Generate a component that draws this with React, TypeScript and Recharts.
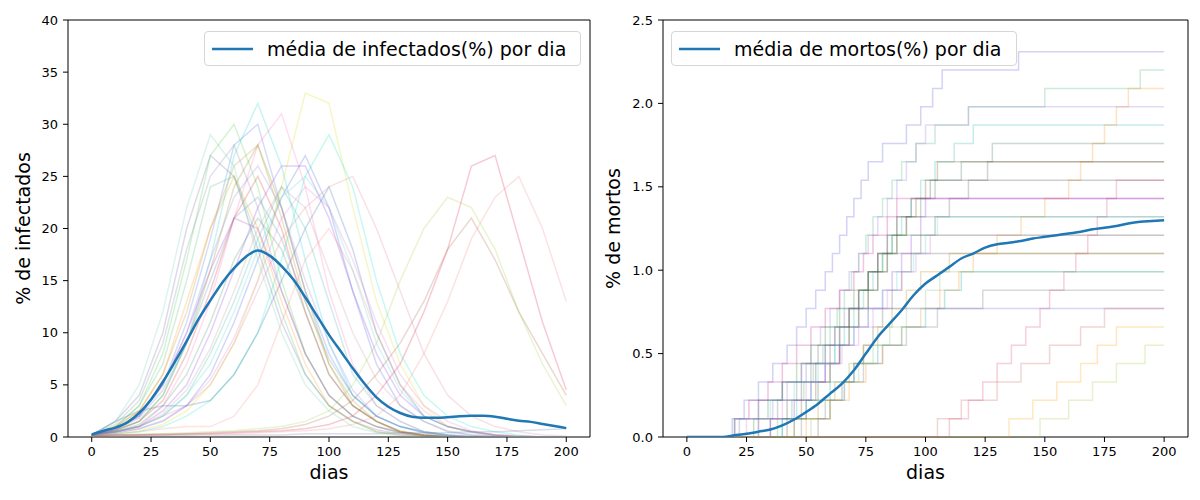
import React from "react";
import { LineChart, Line, XAxis, YAxis, ReferenceArea, Label } from "recharts";

// ---------- shared ----------
const xTicks = [0, 25, 50, 75, 100, 125, 150, 175, 200];
const infTicks = [0, 5, 10, 15, 20, 25, 30, 35, 40];
const mortTicks = [0, 0.5, 1.0, 1.5, 2.0, 2.5];

// ---------- infected: days sampled every 10 ----------
const simDays = [0, 10, 20, 30, 40, 50, 60, 70, 80, 90, 100, 110, 120, 130, 140, 150, 160, 170, 180, 190, 200];
const infRuns: number[][] = [
  [0.2, 1, 3, 8, 17, 27, 30, 24, 15, 8, 4, 2, 1, 0.5, 0.2, 0.1, 0, 0, 0, 0, 0],
  [0.2, 0.8, 2, 5, 11, 19, 28, 30, 22, 14, 8, 4, 2, 1, 0.5, 0.2, 0.1, 0, 0, 0, 0],
  [0.2, 0.6, 1.5, 4, 9, 17, 27, 32, 26, 17, 9, 4, 2, 1, 0.5, 0.2, 0, 0, 0, 0, 0],
  [0.2, 0.5, 1, 3, 7, 13, 21, 28, 31, 24, 14, 7, 3, 1.5, 0.5, 0.2, 0, 0, 0, 0, 0],
  [0.1, 0.3, 0.6, 1.2, 2.5, 5, 9, 15, 24, 33, 32, 22, 13, 7, 3, 1, 0.5, 0.2, 0, 0, 0],
  [0.1, 0.3, 0.5, 1, 2, 3.5, 6, 10, 17, 25, 29, 24, 15, 8, 4, 2, 1, 0.5, 0.2, 0, 0],
  [0.1, 0.2, 0.2, 0.2, 0.3, 0.3, 0.4, 0.5, 0.6, 0.8, 1.2, 2, 4, 7, 12, 18, 26, 27, 19, 11, 4.5],
  [0.1, 0.2, 0.2, 0.3, 0.3, 0.4, 0.5, 0.6, 0.8, 1.2, 2, 3.5, 6, 9, 13, 18, 21, 17, 12, 8, 4],
  [0.1, 0.2, 0.3, 0.3, 0.4, 0.5, 0.6, 0.8, 1, 1.5, 2.5, 5, 9, 15, 20, 23, 22, 18, 12, 7, 3],
  [0.2, 0.5, 1, 2, 3, 5, 9, 14, 19, 22, 24, 25, 20, 14, 8, 4, 2, 1, 0.5, 0.2, 0.1],
  [0.1, 0.1, 0.2, 0.2, 0.2, 0.3, 0.3, 0.4, 0.5, 0.6, 0.8, 1.2, 2, 4, 8, 13, 19, 23, 25, 20, 13],
  [0.2, 1.5, 2.5, 3, 3, 3.5, 6, 10, 15, 20, 24, 18, 10, 5, 2, 1, 0.5, 0.2, 0.1, 0, 0],
  [0.2, 0.5, 1, 2.5, 5, 10, 16, 22, 26, 26, 21, 14, 8, 4, 2, 1, 0.5, 0.2, 0, 0, 0],
  [0.2, 1.5, 4, 10, 20, 27, 25, 18, 11, 6, 3, 1.5, 0.7, 0.3, 0.1, 0, 0, 0, 0, 0, 0],
  [0.2, 0.7, 1.5, 4, 9, 16, 24, 28, 22, 14, 7, 3, 1.5, 0.5, 0.2, 0, 0, 0, 0, 0, 0],
  [0.2, 1, 2.5, 6, 13, 20, 25, 20, 13, 7, 3, 1.5, 0.5, 0.2, 0, 0, 0, 0, 0, 0, 0],
  [0.2, 0.5, 1.2, 3, 6, 11, 17, 21, 18, 12, 6, 3, 1.5, 0.5, 0.2, 0, 0, 0, 0, 0, 0],
  [0.2, 0.5, 1, 2, 4, 8, 13, 19, 24, 20, 13, 6, 3, 1.5, 0.5, 0.2, 0, 0, 0, 0, 0],
  [0.1, 0.3, 0.5, 0.8, 1, 1, 2, 5, 11, 17, 20, 16, 10, 5, 2.5, 1, 0.5, 0.2, 0.1, 0, 0],
  [0.2, 0.6, 1.5, 3.5, 8, 14, 21, 25, 20, 12, 6, 3, 1.5, 0.5, 0.2, 0, 0, 0, 0, 0, 0],
  [0.2, 0.4, 0.8, 1.5, 3, 6, 11, 17, 23, 27, 22, 14, 7, 3, 1.5, 0.5, 0.2, 0.1, 0, 0, 0],
  [0.1, 0.2, 0.2, 0.2, 0.2, 0.2, 0.2, 0.2, 0.2, 0.3, 0.3, 0.3, 0.3, 0.4, 0.4, 0.4, 0.5, 0.5, 0.6, 0.7, 0.8],
  [0.2, 1, 3, 7, 15, 24, 25, 19, 12, 6, 3, 1.5, 0.5, 0.2, 0, 0, 0, 0, 0, 0, 0],
  [0.2, 0.7, 2, 5, 10, 16, 21, 20, 14, 8, 4, 2, 1, 0.4, 0.1, 0, 0, 0, 0, 0, 0],
  [0.2, 0.8, 2, 5, 10, 17, 23, 26, 22, 15, 9, 4.5, 2, 1, 0.4, 0.1, 0, 0, 0, 0, 0],
  [0.2, 1.2, 3.5, 9, 18, 25, 28, 22, 14, 8, 4, 2, 1, 0.4, 0.1, 0, 0, 0, 0, 0, 0],
  [0.2, 0.5, 1, 2, 4, 7, 12, 18, 23, 25, 22, 16, 9, 4.5, 2, 1, 0.4, 0.1, 0, 0, 0],
  [0.2, 0.9, 2.5, 6, 12, 20, 26, 28, 21, 13, 7, 3.5, 1.5, 0.6, 0.2, 0, 0, 0, 0, 0, 0],
  [0.2, 0.4, 0.8, 1.6, 3, 5.5, 9.5, 15, 21, 24, 22, 17, 11, 6, 3, 1.5, 0.6, 0.2, 0, 0, 0],
  [0.2, 1.5, 5, 12, 22, 29, 26, 17, 10, 5, 2.5, 1, 0.4, 0.1, 0, 0, 0, 0, 0, 0, 0],
  [0.2, 0.7, 1.8, 4.5, 9, 15, 21, 23, 19, 13, 7.5, 4, 2, 1, 0.4, 0.1, 0, 0, 0, 0, 0],
  [0.2, 0.5, 1, 2.2, 4.5, 8.5, 14, 20, 24, 22, 16, 10, 5.5, 3, 1.5, 0.6, 0.2, 0, 0, 0, 0],
];
const infColors = [
  "#32cd32", "#4169e1", "#00ced1", "#ff69b4", "#d4d400", "#00e5c0", "#dc143c", "#a0522d",
  "#9acd32", "#e07090", "#f08080", "#1e5aa0", "#8a2be2", "#6a5a9a", "#808000", "#ff8c00",
  "#2e8b57", "#20b2aa", "#fa8072", "#cd2020", "#3050d0", "#5a6a9a", "#3cb371", "#c020c0",
  "#9370db", "#708090", "#48d1cc", "#b8860b", "#da70d6", "#66cdaa", "#4682b4", "#bc8f8f",
];

// mean infected, every 5 days
const meanDays = [0, 5, 10, 15, 20, 25, 30, 35, 40, 45, 50, 55, 60, 65, 70, 75, 80, 85, 90, 95, 100,
  105, 110, 115, 120, 125, 130, 135, 140, 145, 150, 155, 160, 165, 170, 175, 180, 185, 190, 195, 200];
const meanInf = [0.25, 0.6, 0.9, 1.4, 2.3, 3.6, 5.3, 7.2, 9.2, 11.3, 13.1, 14.8, 16.2, 17.3, 17.9, 17.4, 16.4, 15.1, 13.4, 11.6, 9.8,
  8.2, 6.6, 5.1, 3.8, 2.9, 2.3, 1.95, 1.85, 1.85, 1.9, 2.0, 2.05, 2.05, 1.95, 1.75, 1.55, 1.45, 1.25, 1.05, 0.85];

// mean deaths, every 5 days
const meanMort = [0, 0, 0, 0, 0.01, 0.02, 0.032, 0.045, 0.07, 0.105, 0.15, 0.2, 0.26, 0.32, 0.4, 0.5, 0.6, 0.68, 0.76, 0.85, 0.92,
  0.97, 1.02, 1.07, 1.1, 1.135, 1.155, 1.165, 1.175, 1.19, 1.2, 1.21, 1.22, 1.23, 1.245, 1.255, 1.265, 1.28, 1.29, 1.295, 1.3];

// deaths runs: the days on which each successive death happened (1 death = 0.11 %)
const deathStep = 0.11;
const deathRuns: number[][] = [
  [19, 24, 30, 36, 42, 46, 50, 54, 58, 61, 64, 67, 70, 73, 76, 82, 92, 98, 103, 107, 139],
  [38, 44, 49, 53, 57, 60, 63, 66, 69, 72, 75, 78, 82, 86, 90, 96, 104, 118, 150, 190],
  [50, 60, 68, 75, 82, 90, 98, 106, 114, 120, 130, 140, 150, 160, 165, 170, 175, 180, 185],
  [30, 36, 42, 48, 52, 56, 60, 64, 68, 72, 76, 80, 84, 88, 92, 96, 100, 118],
  [40, 46, 52, 58, 62, 66, 70, 74, 78, 82, 86, 90, 94, 98, 104, 112, 120],
  [45, 50, 55, 60, 64, 68, 72, 76, 80, 84, 88, 92, 98, 104, 115, 128],
  [42, 48, 54, 60, 64, 68, 72, 76, 80, 84, 88, 92, 96, 100, 105],
  [55, 60, 65, 70, 74, 78, 82, 86, 90, 94, 98, 104, 110, 118, 126],
  [35, 42, 48, 54, 60, 64, 68, 72, 76, 80, 84, 88, 94, 102],
  [110, 118, 124, 130, 136, 142, 148, 152, 158, 163, 168, 172, 176, 180],
  [20, 26, 34, 40, 46, 52, 58, 64, 70, 74, 78, 84, 88],
  [35, 45, 52, 58, 64, 70, 76, 82, 86, 90, 94, 98, 100],
  [30, 38, 46, 52, 58, 64, 68, 72, 76, 80, 84, 88],
  [28, 34, 40, 46, 52, 58, 64, 70, 76, 82, 86],
  [20, 30, 40, 48, 55, 62, 68, 72, 76, 80],
  [40, 50, 60, 70, 80, 90, 100, 108, 115],
  [48, 58, 66, 74, 82, 92, 105, 124],
  [22, 30, 40, 50, 58, 62, 66],
  [135, 145, 155, 165, 172, 180],
  [148, 160, 170, 180, 192],
  [105, 115, 130, 140, 152, 165, 175],
  [20, 35, 45, 55, 62, 70, 76, 82, 88, 95, 100, 105],
  [25, 40, 50, 58, 65, 72, 78, 84, 90, 96, 102],
  [45, 55, 62, 68, 74, 80, 86, 92, 98, 110],
  [52, 60, 66, 72, 78, 85, 92, 100, 106],
];
const deathColors = [
  "#5050e0", "#3cb371", "#ff8c00", "#9370db", "#20b2aa", "#2e6b4f", "#6b4513", "#505050",
  "#404040", "#db4070", "#c71585", "#8a2be2", "#606060", "#228b22", "#505050", "#00a0a0",
  "#606878", "#6a5acd", "#ffa500", "#9acd32", "#cd5c5c", "#48d1cc", "#da70d6", "#b8860b",
  "#7fbf7f",
];

// ---------- builders ----------
const infTable = simDays.map((d, i) => {
  const row: Record<string, number> = { d };
  infRuns.forEach((run, k) => (row["s" + k] = run[i]));
  return row;
});
const meanInfData = meanDays.map((d, i) => ({ d, v: meanInf[i] }));
const meanMortData = meanDays.map((d, i) => ({ d, v: meanMort[i] }));
const deathData = deathRuns.map((steps) => {
  const pts = [{ d: 0, v: 0 }];
  steps.forEach((day, i) => pts.push({ d: day, v: +((i + 1) * deathStep).toFixed(2) }));
  pts.push({ d: 200, v: +(steps.length * deathStep).toFixed(2) });
  return pts;
});

const FONT = "DejaVu Sans";
const tickStyle = { fontSize: 13, fill: "#000", fontFamily: FONT };
const BLUE = "#1f77b4";

const LegendBox = ({ text, left, width }: { text: string; left: number; width: number }) => (
  <div
    style={{
      position: "absolute",
      left,
      top: 31,
      width,
      height: 35,
      boxSizing: "border-box",
      border: "1px solid #d6d6d6",
      borderRadius: 4,
      background: "rgba(255,255,255,0.8)",
      display: "flex",
      alignItems: "center",
      fontFamily: FONT,
      fontSize: 19,
      color: "#000",
    }}
  >
    <svg width={62} height={20} style={{ flex: "none" }}>
      <line x1={7} y1={10} x2={48} y2={10} stroke={BLUE} strokeWidth={2.5} />
    </svg>
    <span style={{ whiteSpace: "nowrap" }}>{text}</span>
  </div>
);

const InfChart = () => (
  <LineChart width={600} height={500} margin={{ top: 20, right: 10, left: 0, bottom: 0 }}>
    <XAxis
      type="number"
      dataKey="d"
      domain={[-10, 210]}
      ticks={xTicks}
      allowDataOverflow
      height={63}
      tick={tickStyle}
      tickSize={5}
      tickMargin={5}
      tickLine={{ stroke: "#000" }}
      axisLine={false}
    >
      <Label value="dias" position="center" dy={4} style={{ fontSize: 19, fontFamily: FONT, fill: "#000" }} />
    </XAxis>
    <YAxis
      type="number"
      domain={[0, 40]}
      ticks={infTicks}
      allowDataOverflow
      width={68}
      tick={tickStyle}
      tickSize={5}
      tickMargin={5}
      tickLine={{ stroke: "#000" }}
      axisLine={false}
    >
      <Label value="% de infectados" angle={-90} position="center" dx={-11} style={{ fontSize: 19, fontFamily: FONT, fill: "#000" }} />
    </YAxis>
    {infRuns.map((_, k) => (
      <Line
        key={"s" + k}
        data={infTable}
        dataKey={"s" + k}
        type="linear"
        stroke={infColors[k % infColors.length]}
        strokeOpacity={0.22}
        strokeWidth={1.5}
        dot={false}
        activeDot={false}
        isAnimationActive={false}
        legendType="none"
      />
    ))}
    <Line
      data={meanInfData}
      dataKey="v"
      name="média de infectados(%) por dia"
      type="monotone"
      stroke={BLUE}
      strokeWidth={2.5}
      dot={false}
      activeDot={false}
      isAnimationActive={false}
    />
    <ReferenceArea x1={-10} x2={210} y1={0} y2={40} fill="none" stroke="#000" strokeWidth={1} ifOverflow="visible" />
  </LineChart>
);

const MortChart = () => (
  <LineChart width={600} height={500} margin={{ top: 20, right: 12, left: 0, bottom: 0 }}>
    <XAxis
      type="number"
      dataKey="d"
      domain={[-10, 210]}
      ticks={xTicks}
      allowDataOverflow
      height={63}
      tick={tickStyle}
      tickSize={5}
      tickMargin={5}
      tickLine={{ stroke: "#000" }}
      axisLine={false}
    >
      <Label value="dias" position="center" dy={4} style={{ fontSize: 19, fontFamily: FONT, fill: "#000" }} />
    </XAxis>
    <YAxis
      type="number"
      domain={[0, 2.5]}
      ticks={mortTicks}
      allowDataOverflow
      width={63}
      tick={tickStyle}
      tickFormatter={(v: number) => v.toFixed(1)}
      tickSize={5}
      tickMargin={5}
      tickLine={{ stroke: "#000" }}
      axisLine={false}
    >
      <Label value="% de mortos" angle={-90} position="center" dx={-18} style={{ fontSize: 19, fontFamily: FONT, fill: "#000" }} />
    </YAxis>
    {deathData.map((pts, k) => (
      <Line
        key={"m" + k}
        data={pts}
        dataKey="v"
        type="stepAfter"
        stroke={deathColors[k % deathColors.length]}
        strokeOpacity={0.25}
        strokeWidth={1.5}
        dot={false}
        activeDot={false}
        isAnimationActive={false}
        legendType="none"
      />
    ))}
    <Line
      data={meanMortData}
      dataKey="v"
      name="média de mortos(%) por dia"
      type="monotone"
      stroke={BLUE}
      strokeWidth={2.5}
      dot={false}
      activeDot={false}
      isAnimationActive={false}
    />
    <ReferenceArea x1={-10} x2={210} y1={0} y2={2.5} fill="none" stroke="#000" strokeWidth={1} ifOverflow="visible" />
  </LineChart>
);

export default function App() {
  return (
    <div style={{ position: "absolute", left: 0, top: 0, width: 1200, height: 500, background: "#fff" }}>
      <div style={{ position: "absolute", left: 0, top: 0 }}>
        <InfChart />
        <LegendBox text="média de infectados(%) por dia" left={204} width={377} />
      </div>
      <div style={{ position: "absolute", left: 600, top: 0 }}>
        <MortChart />
        <LegendBox text="média de mortos(%) por dia" left={71} width={346} />
      </div>
    </div>
  );
}
